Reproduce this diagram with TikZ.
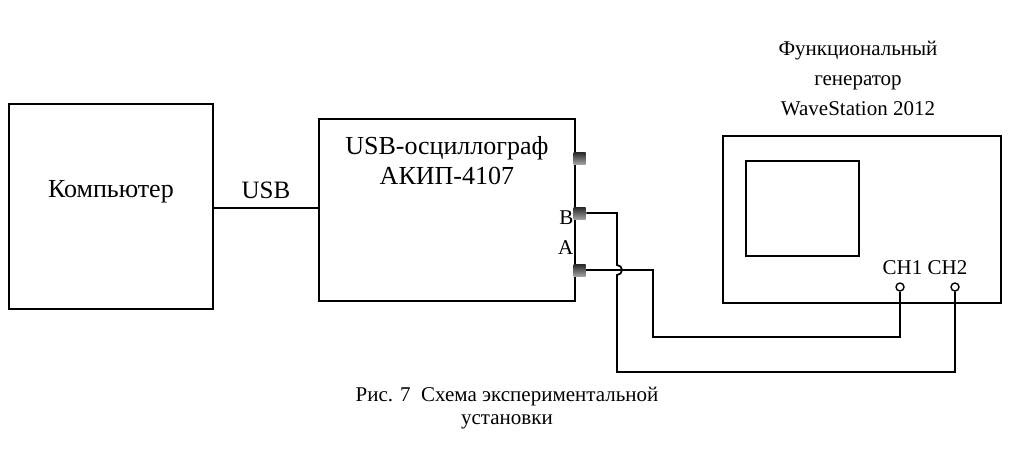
\documentclass[tikz,border=0pt]{standalone}
\usepackage{fontspec}
\setmainfont{Liberation Serif}
\usetikzlibrary{positioning}
\begin{document}
\begin{tikzpicture}[x=1pt, y=-1pt, line width=1.8pt,
  block/.style={draw, rectangle, inner sep=0pt, anchor=north west},
  port/.style={rectangle, inner sep=0pt, minimum width=12pt, minimum height=12pt, top color=gray!30!black, bottom color=gray!75},
  jack/.style={circle, draw, line width=1.4pt, inner sep=0pt, minimum size=8pt, fill=white}]
  \useasboundingbox (0,0) rectangle (1016,459);

  \node (pc) [block, minimum width=204pt, minimum height=205pt] at (8,103) {};
  \node at (pc.center) [font=\fontsize{26}{30}\selectfont, yshift=15pt] {Компьютер};

  \node (osc) [block, minimum width=256pt, minimum height=182pt] at (318,118) {};
  \node (osctext) [below=14pt of osc.north, font=\fontsize{26}{30}\selectfont, align=center] {USB-осциллограф\\АКИП-4107};

  \node (gen) [block, minimum width=278pt, minimum height=167pt] at (722,135) {};
  \node (screen) [block, minimum width=113pt, minimum height=95pt] at (745,160) {};
  \node (gentext) [font=\fontsize{21}{30}\selectfont, align=center] at (858,78) {Функциональный\\генератор\\WaveStation 2012};

  % USB link
  \draw (pc.east |- 0,208) coordinate (usbl) -- (osc.west |- usbl) node [midway, above=5pt, font=\fontsize{25}{28}\selectfont] {USB};

  % ports
  \node (p0) [port] at (579.5,158) {};
  \node (pB) [port] at (579.5,213) {};
  \node (pA) [port] at (579.5,270) {};
  \node (lB) [left=-5pt of pB, yshift=-5pt, font=\fontsize{21}{24}\selectfont] {B};
  \node (lA) [left=-5pt of pA, yshift=22pt, font=\fontsize{21}{24}\selectfont] {A};

  % generator channels
  \node (ch1) [jack] at (900,287) {};
  \node (ch2) [jack] at (955,287) {};
  \node (chtext) [font=\fontsize{21}{24}\selectfont] at (925,268) {CH1 CH2};

  % wires
  \draw (pA.east) -- (653,270) -- (653,337) -- (ch1.south |- 0,337) -- (ch1.south);
  \draw (pB.east) -- (617,213) -- (617,265) arc (-90:90:5) -- (617,372) -- (ch2.south |- 0,372) -- (ch2.south);

  % caption
  \node (caption) [font=\fontsize{21}{23}\selectfont, align=center] at (507,408) {Рис. 7\ \ Схема экспериментальной\\установки};
\end{tikzpicture}
\end{document}
